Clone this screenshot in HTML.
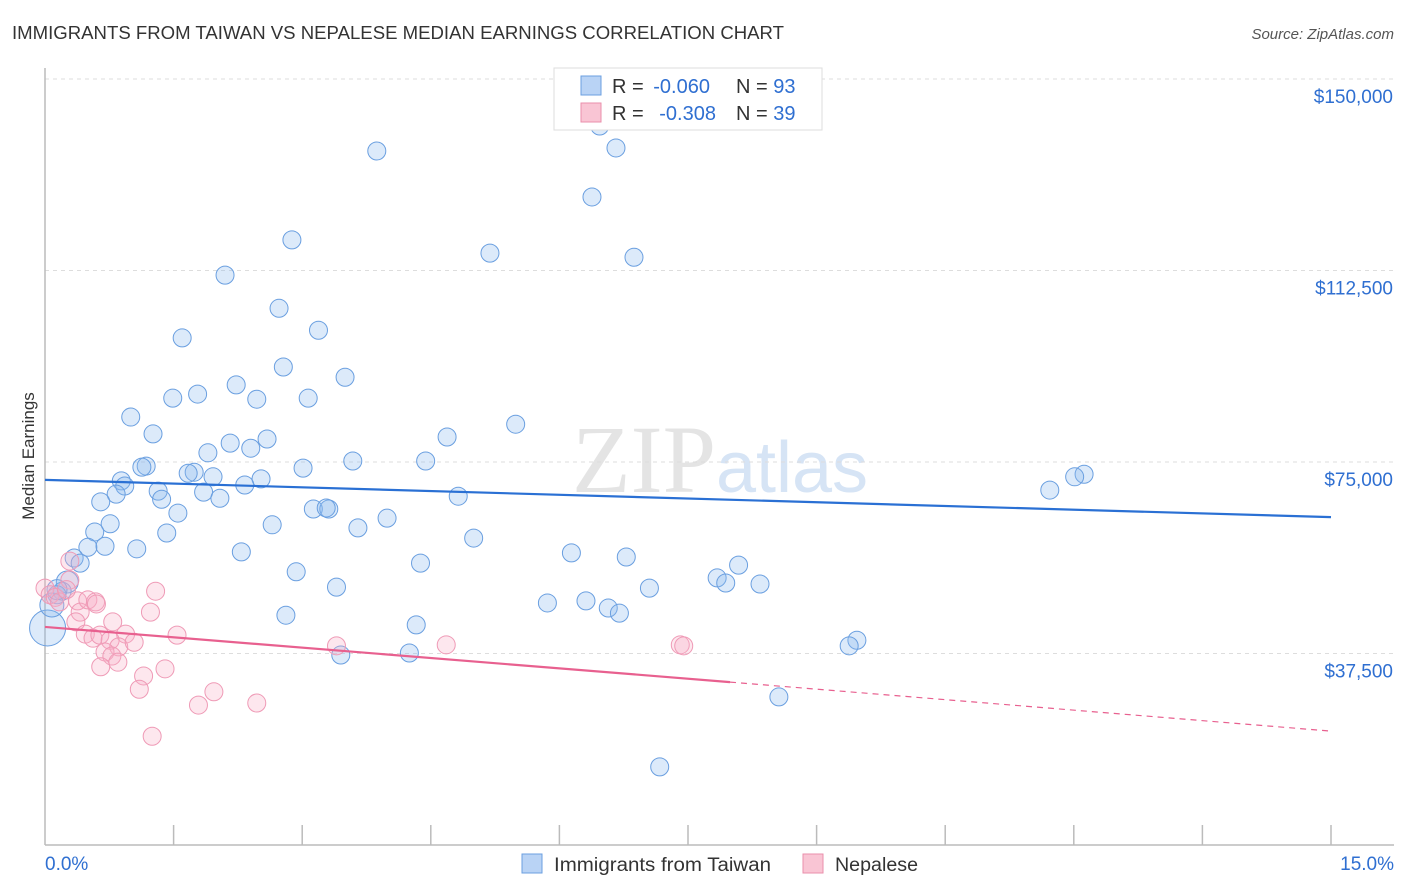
<!DOCTYPE html>
<html><head><meta charset="utf-8">
<style>
html,body{margin:0;padding:0;background:#fff;width:1406px;height:892px;overflow:hidden;font-family:"Liberation Sans",sans-serif;}
</style></head>
<body>
<svg id="chart" width="1406" height="892" xmlns="http://www.w3.org/2000/svg">
<text x="12" y="39" font-size="18" fill="#333" textLength="772" lengthAdjust="spacingAndGlyphs">IMMIGRANTS FROM TAIWAN VS NEPALESE MEDIAN EARNINGS CORRELATION CHART</text>
<text x="1394" y="39" font-size="15" fill="#555" text-anchor="end" font-style="italic">Source: ZipAtlas.com</text>
<text x="720" y="492" font-size="96" fill="#e4e4e4" text-anchor="middle" font-family="Liberation Serif,serif">ZIP<tspan fill="#d6e4f5" font-family="Liberation Sans,sans-serif" font-size="72">atlas</tspan></text>
<text x="34" y="456" font-size="17" fill="#333" text-anchor="middle" transform="rotate(-90 34 456)">Median Earnings</text>
<g id="grid"></g><g id="axes"></g><g id="marks"></g>
<g>
<rect x="554" y="68" width="268" height="62" fill="#fff" stroke="#ddd"/>
<rect x="581" y="76" width="20" height="19" fill="#b9d3f5" stroke="#6b9fe0"/>
<text x="612" y="93" font-size="20" fill="#333">R = <tspan fill="#2f6fd1" dx="4">-0.060</tspan><tspan x="736">N = </tspan><tspan fill="#2f6fd1">93</tspan></text>
<rect x="581" y="103" width="20" height="19" fill="#f9c5d4" stroke="#ea8fab"/>
<text x="612" y="120" font-size="20" fill="#333">R = <tspan fill="#2f6fd1" dx="10">-0.308</tspan><tspan x="736">N = </tspan><tspan fill="#2f6fd1">39</tspan></text>
</g>
<g>
<rect x="522" y="854" width="20" height="19" fill="#b9d3f5" stroke="#6b9fe0"/>
<text x="554" y="871" font-size="19" fill="#333" textLength="217" lengthAdjust="spacingAndGlyphs">Immigrants from Taiwan</text>
<rect x="803" y="854" width="20" height="19" fill="#f9c5d4" stroke="#ea8fab"/>
<text x="835" y="871" font-size="19" fill="#333" textLength="83" lengthAdjust="spacingAndGlyphs">Nepalese</text>
</g>
</svg>
<script>
const yTicks=[37500,75000,112500,150000];
const yTickLabels=["$37,500","$75,000","$112,500","$150,000"];
const xTickLabels=["0.0%","15.0%"];
const blueX=[6.47,6.66,3.87,6.38,2.88,5.19,6.87,2.10,2.73,3.19,1.60,2.78,3.50,2.23,1.78,1.49,2.47,3.07,1.00,5.49,1.26,4.69,2.59,2.16,2.40,1.90,3.59,4.44,1.18,1.13,3.01,1.74,1.67,1.96,12.12,12.01,0.89,2.52,2.33,0.93,0.83,1.32,1.85,11.72,4.82,2.04,1.36,0.65,3.13,3.31,3.28,1.55,3.99,0.76,2.65,3.65,0.58,1.42,5.00,0.50,0.70,1.07,2.29,6.14,6.78,0.34,0.41,4.38,8.09,2.93,7.84,7.94,8.34,0.26,3.40,7.05,0.20,0.14,6.31,5.86,6.57,6.70,2.81,4.33,9.47,9.38,3.45,4.25,8.56,7.17,0.03,0.08,0.14];
const blueY=[140.8,136.5,135.9,126.9,118.5,115.9,115.1,111.6,105.1,100.8,99.3,93.6,91.6,90.1,88.3,87.5,87.3,87.5,83.8,82.4,80.5,79.9,79.5,78.7,77.7,76.8,75.2,75.2,74.2,74.0,73.8,73.0,72.8,72.1,72.6,72.1,71.3,71.7,70.5,70.3,68.7,69.3,69.1,69.5,68.3,67.9,67.7,67.2,65.8,65.8,66.0,65.0,64.0,62.9,62.7,62.1,61.3,61.1,60.1,58.3,58.5,58.0,57.4,57.2,56.4,56.2,55.2,55.2,54.8,53.5,52.3,51.3,51.1,51.5,50.5,50.3,49.7,49.0,47.8,47.4,46.4,45.4,45.0,43.1,40.1,39.0,37.2,37.6,29.0,15.3,42.5,47.0,50.0];
const blueR=[9,9,9,9,9,9,9,9,9,9,9,9,9,9,9,9,9,9,9,9,9,9,9,9,9,9,9,9,9,9,9,9,9,9,9,9,9,9,9,9,9,9,9,9,9,9,9,9,9,9,9,9,9,9,9,9,9,9,9,9,9,9,9,9,9,9,9,9,9,9,9,9,9,11,9,9,9,9,9,9,9,9,9,9,9,9,9,9,9,9,18,12,10];
const pinkX=[0.0,0.06,0.12,0.17,0.29,0.29,0.38,0.41,0.50,0.59,0.36,0.47,0.56,0.64,0.79,0.60,1.29,1.23,1.54,0.94,0.76,0.86,1.04,0.70,0.78,0.85,0.65,1.15,1.40,1.10,1.97,1.79,2.47,1.25,3.40,4.68,7.41,7.45,0.25];
const pinkY=[50.3,49.0,48.5,47.6,51.9,55.6,47.8,45.6,48.0,47.6,43.7,41.3,40.5,41.1,43.7,47.2,49.7,45.6,41.1,41.3,40.1,38.8,39.7,37.8,37.0,35.8,34.9,33.1,34.5,30.5,30.0,27.4,27.8,21.3,39.0,39.2,39.2,39.0,50.0];
const blueTrend=[71.5,64.2];
const pinkTrend=[42.7,31.9,22.3];
const pinkSolidEnd=7.99;

const NS="http://www.w3.org/2000/svg";
const X0=45,X1=1331,YB=845,YT=79;
const sx=p=>X0+p/15*(X1-X0);
const sy=v=>YB-v/150000*(YB-YT);
const syk=k=>sy(k*1000);
function mk(tag,attrs,parent){const e=document.createElementNS(NS,tag);for(const k in attrs)e.setAttribute(k,attrs[k]);parent.appendChild(e);return e;}
const grid=document.getElementById('grid'),axes=document.getElementById('axes'),marks=document.getElementById('marks');
yTicks.forEach((t,i)=>{
  const l=mk('line',{x1:X0,x2:1394,y1:sy(t),y2:sy(t),stroke:'#ddd','stroke-dasharray':'4 4'},grid);
  
  
  const tx=mk('text',{x:1393,y:sy(t)+24,'font-size':19,fill:'#2f6fd1','text-anchor':'end'},axes);
  tx.textContent=yTickLabels[i];
  
  
});
const ya=mk('line',{x1:X0,x2:X0,y1:68,y2:YB,stroke:'#bbb','stroke-width':1.5},axes);


const xa=mk('line',{x1:X0,x2:1394,y1:YB,y2:YB,stroke:'#bbb','stroke-width':1.5},axes);


for(let i=1;i<=10;i++){const t=mk('line',{x1:sx(i*1.5),x2:sx(i*1.5),y1:825,y2:YB,stroke:'#bbb','stroke-width':1.5},axes);
  
  }
[[0,'start',45],[15,'end',1394]].forEach((d,i)=>{const t=mk('text',{x:d[2],y:870,'font-size':19,fill:'#2f6fd1','text-anchor':d[1]},axes);t.textContent=xTickLabels[i];
  
  });
blueX.forEach((x,i)=>{const c=mk('circle',{cx:sx(x),cy:syk(blueY[i]),r:blueR[i],fill:'rgba(140,185,240,0.3)',stroke:'#6a9fe0','stroke-width':1},marks);
  
  });
pinkX.forEach((x,i)=>{const c=mk('circle',{cx:sx(x),cy:syk(pinkY[i]),r:9,fill:'rgba(248,175,198,0.3)',stroke:'#ef9ab6','stroke-width':1},marks);
  
  });
const bt=mk('line',{x1:sx(0),y1:syk(blueTrend[0]),x2:sx(15),y2:syk(blueTrend[1]),stroke:'#2a70d4','stroke-width':2.2},marks);


const pt=mk('line',{x1:sx(0),y1:syk(pinkTrend[0]),x2:sx(pinkSolidEnd),y2:syk(pinkTrend[1]),stroke:'#e8608f','stroke-width':2.2},marks);


const pd=mk('line',{x1:sx(pinkSolidEnd),y1:syk(pinkTrend[1]),x2:sx(15),y2:syk(pinkTrend[2]),stroke:'#e8608f','stroke-width':1.2,'stroke-dasharray':'6 5'},marks);


</script>
</body></html>
